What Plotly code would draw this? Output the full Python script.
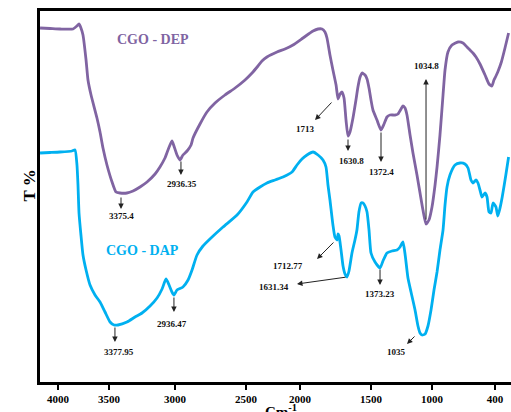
import numpy as np
import plotly.graph_objects as go

# ---------------- data (wavenumber cm-1, transmittance arbitrary units) ----------------
dep_wn = [4176, 4078, 3980, 3853, 3814, 3794, 3775, 3755, 3725, 3706, 3676, 3618, 3588, 3559, 3520,
          3477, 3447, 3417, 3364, 3318, 3265, 3212, 3151, 3114, 3076, 3053, 3023, 3008, 2986, 2965,
          2944, 2915, 2887, 2873, 2824, 2775, 2718, 2648, 2577, 2507, 2444, 2389, 2352, 2306, 2213,
          2139, 2065, 1979, 1908, 1873, 1845, 1824, 1810, 1789, 1768, 1746, 1732, 1718, 1704, 1690,
          1676, 1662, 1648, 1627, 1606, 1592, 1577, 1563, 1542, 1528, 1514, 1500, 1484, 1451, 1418,
          1393, 1369, 1344, 1303, 1279, 1254, 1238, 1221, 1205, 1180, 1156, 1123, 1098, 1074, 1049,
          1025, 1000, 971, 952, 924, 895, 876, 848, 810, 752, 705, 667, 638, 610, 581, 543, 495, 457,
          429, 410, 390, 371, 333, 295, 257]
dep_t = [355, 354.5, 354, 354, 357, 359, 355, 348, 323, 303, 288, 265, 251, 235, 218,
         201, 191, 190, 190, 192, 196, 201, 209, 216, 225, 233, 242, 237, 228, 223,
         228, 232, 238, 245, 259, 271, 280, 288, 295, 303, 310, 317, 322, 326, 331,
         334, 338, 345, 352, 354, 354, 351, 345, 328, 313, 298, 284, 289, 291, 285,
         263, 247, 251, 265, 283, 296, 306, 310, 308, 304, 295, 283, 273, 263, 253,
         259, 266, 268, 268, 269, 274, 277, 275, 268, 248, 230, 208, 190, 173, 159,
         163, 176, 198, 216, 248, 288, 313, 331, 338, 341, 340, 336, 333, 330, 326, 319,
         308, 299, 297, 303, 307, 311, 321, 335, 350]

dap_wn = [4176, 4078, 3980, 3863, 3833, 3814, 3804, 3794, 3775, 3755, 3725, 3686, 3637, 3588, 3539,
          3492, 3462, 3432, 3364, 3303, 3250, 3189, 3136, 3098, 3068, 3045, 3023, 3008, 2986, 2944,
          2908, 2880, 2845, 2803, 2754, 2662, 2563, 2491, 2435, 2370, 2306, 2231, 2157, 2074, 2028,
          1986, 1951, 1908, 1873, 1838, 1817, 1803, 1789, 1768, 1754, 1739, 1732, 1725, 1711, 1697,
          1683, 1669, 1655, 1634, 1613, 1599, 1585, 1570, 1556, 1542, 1528, 1514, 1500, 1467, 1426,
          1402, 1369, 1328, 1287, 1262, 1238, 1221, 1197, 1172, 1139, 1115, 1098, 1082, 1057, 1033,
          1008, 981, 952, 924, 895, 876, 857, 829, 781, 733, 686, 657, 629, 610, 581, 562, 543,
          524, 495, 476, 457, 438, 419, 390, 371, 352, 324, 286, 257]
dap_t = [230, 230.5, 231, 232, 233, 218, 198, 170, 148, 128, 113, 98, 88, 81, 71,
         61, 58, 58, 61, 66, 70, 77, 85, 94, 104, 98, 91, 88, 93, 96,
         103, 113, 128, 137, 144, 156, 168, 181, 191, 196, 200, 203, 206, 211, 218,
         224, 228, 231, 228, 223, 216, 198, 183, 158, 146, 143, 149, 147, 133, 117,
         109, 106, 112, 130, 143, 153, 171, 180, 180, 177, 171, 153, 130, 121, 115,
         122, 130, 132, 133, 136, 141, 129, 105, 91, 73, 57, 50, 48, 49, 57,
         73, 93, 111, 133, 153, 178, 196, 208, 218, 220, 219, 215, 203, 200, 203, 200, 193,
         186, 190, 186, 171, 170, 180, 176, 167, 173, 186, 208, 226]

tick_wn = [4000, 3500, 3000, 2500, 2000, 1500, 1000, 400]
tick_text = ["4000", "3500", "3000", "2500", "2000", "1500", "1000", "400"]

# peak labels: (text, label wn, label T, arrow tail wn, tail T, arrow head wn, head T)
dep_peaks = [
    ("3375.4", 3409, 167, 3409, 187, 3409, 174),
    ("2936.35", 2951, 199, 2958, 223, 2958, 208),
    ("1713", 1958, 254, 1768, 282, 1894, 263),
    ("1630.8", 1634, 222, 1662, 245, 1662, 232),
    ("1372.4", 1418, 211, 1418, 252, 1418, 221),
    ("1034.8", 1049, 317, 1049, 162, 1049, 304),
]
dap_peaks = [
    ("3377.95", 3424, 31, 3455, 57, 3455, 41),
    ("2936.47", 3023, 59, 3008, 87, 3008, 71),
    ("1712.77", 2111, 117, 1754, 142, 1880, 124),
    ("1631.34", 2241, 96, 1669, 106, 2028, 99),
    ("1373.23", 1426, 89, 1426, 115, 1426, 98),
    ("1035", 1295, 31, 1131, 48, 1205, 39),
]
series_labels = [("CGO - DEP", 3167, 344, "#8064A2"), ("CGO - DAP", 3250, 133, "#00B0F0")]

# ---------------- axis scale (the original axis is not evenly spaced) ----------------
KNOT_WN = np.array([4200, 4000, 3500, 3000, 2500, 2000, 1500, 1000, 400, 200], float)
KNOT_POS = np.array([37.6, 58, 109, 175, 246, 300, 371, 432, 495, 514], float)


def sx(wn):
    return np.interp(-np.asarray(wn, float), -KNOT_WN, KNOT_POS)


PURPLE = "#8064A2"
BLUE = "#00B0F0"
SERIF = "Liberation Serif"

fig = go.Figure()
fig.add_trace(go.Scatter(x=sx(dep_wn), y=dep_t, mode="lines",
                         line=dict(color=PURPLE, width=2.8, shape="spline", smoothing=0.5),
                         showlegend=False))
fig.add_trace(go.Scatter(x=sx(dap_wn), y=dap_t, mode="lines",
                         line=dict(color=BLUE, width=2.8, shape="spline", smoothing=0.5),
                         showlegend=False))

annos = []
for txt, lx, ly, tx, ty, hx, hy in dep_peaks + dap_peaks:
    annos.append(dict(x=float(sx(hx)), y=hy, ax=float(sx(tx)), ay=ty, axref="x", ayref="y",
                      xref="x", yref="y", text="", showarrow=True, arrowhead=2, arrowsize=1.1,
                      arrowwidth=1, arrowcolor="#222", standoff=0, startstandoff=0))
    annos.append(dict(x=float(sx(lx)), y=ly, xref="x", yref="y", text="<b>%s</b>" % txt,
                      showarrow=False, font=dict(family=SERIF, size=9, color="#111")))
for txt, lx, ly, col in series_labels:
    annos.append(dict(x=float(sx(lx)), y=ly, xref="x", yref="y", text="<b>%s</b>" % txt,
                      showarrow=False, font=dict(family=SERIF, size=14, color=col)))
annos.append(dict(x=0, y=0.528, xref="paper", yref="paper", xshift=-22, text="<b>T %</b>",
                  textangle=-90, showarrow=False, font=dict(family=SERIF, size=17, color="black")))
annos.append(dict(x=float(sx(2180)), y=0, xref="x", yref="paper", yshift=-18, yanchor="top",
                  text="<b>Cm<sup>-1</sup></b>", showarrow=False,
                  font=dict(family=SERIF, size=15, color="black")))

fig.update_layout(
    width=511, height=412,
    margin=dict(l=40, r=0, t=11, b=30),
    paper_bgcolor="white", plot_bgcolor="white",
    annotations=annos,
    xaxis=dict(range=[40, 511], tickvals=list(sx(tick_wn)), ticktext=tick_text,
               showgrid=False, zeroline=False, showline=True, linecolor="black", linewidth=3,
               mirror=True, ticks="outside", ticklen=5, tickwidth=1.5, tickcolor="black",
               tickfont=dict(family=SERIF, size=11, color="black", weight="bold"),
               fixedrange=True),
    yaxis=dict(range=[1, 372], showticklabels=False, showgrid=False, zeroline=False,
               showline=True, linecolor="black", linewidth=3, ticks="", fixedrange=True),
)

fig.write_html("out.html")
